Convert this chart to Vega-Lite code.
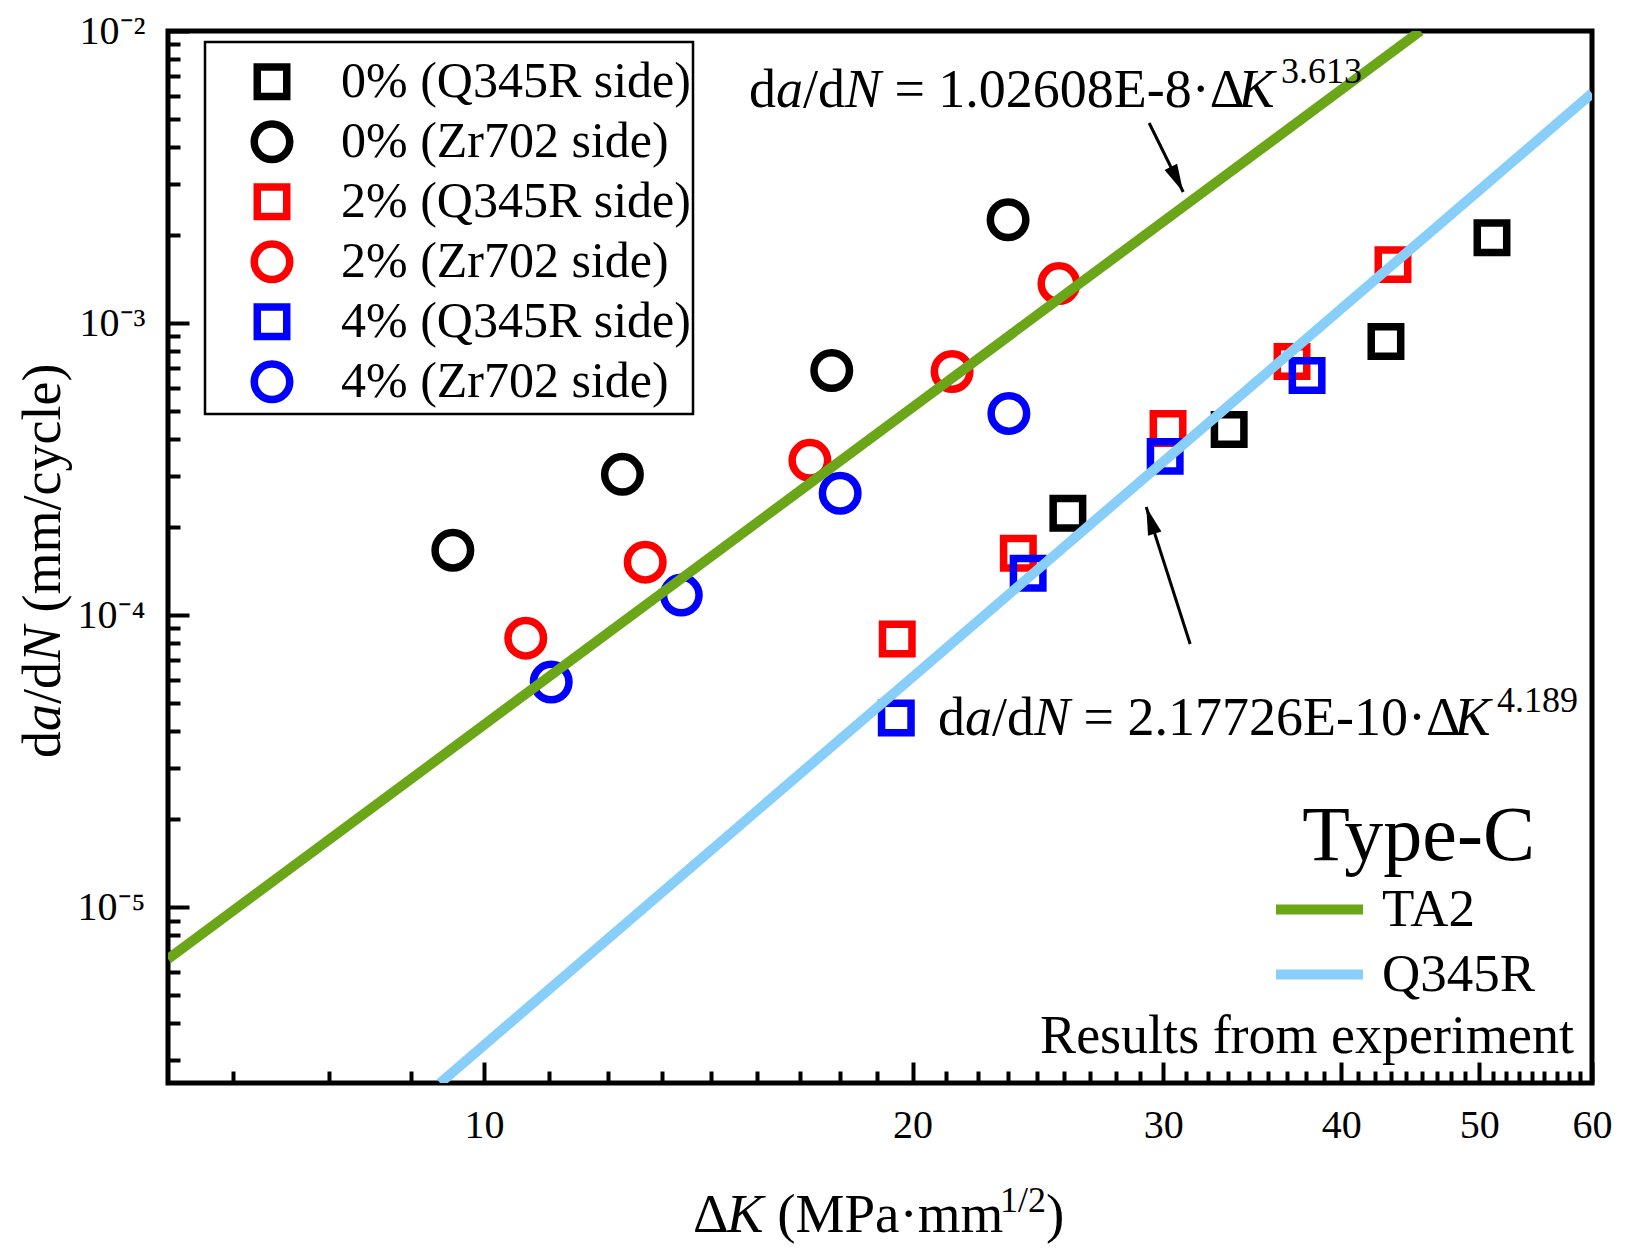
{
  "$schema": "https://vega.github.io/schema/vega-lite/v6.json",
  "width": 1424,
  "height": 1052,
  "autosize": {"type": "none"},
  "padding": {"left": 168, "top": 31, "right": 33, "bottom": 170},
  "background": "white",
  "config": {
    "view": {"stroke": "black", "strokeWidth": 5},
    "axis": {
      "domain": false, "grid": false, "title": null,
      "tickColor": "black", "tickWidth": 4,
      "labelFont": "Liberation Serif", "labelFontSize": 40, "labelColor": "black",
      "labelFlush": false, "labelOverlap": false
    },
    "legend": {"strokeWidth": 2.5},
    "text": {"font": "Liberation Serif", "color": "black"}
  },
  "datasets": {
    "pts": [
      {"series": "0% (Q345R side)", "k": 25.71, "rate": 0.0002232},
      {"series": "0% (Q345R side)", "k": 33.37, "rate": 0.0004324},
      {"series": "0% (Q345R side)", "k": 43.0, "rate": 0.0008645},
      {"series": "0% (Q345R side)", "k": 51.04, "rate": 0.00196},
      {"series": "0% (Zr702 side)", "k": 9.51, "rate": 0.0001668},
      {"series": "0% (Zr702 side)", "k": 12.51, "rate": 0.0003034},
      {"series": "0% (Zr702 side)", "k": 17.55, "rate": 0.000688},
      {"series": "0% (Zr702 side)", "k": 23.34, "rate": 0.002258},
      {"series": "2% (Q345R side)", "k": 19.51, "rate": 0.0000828},
      {"series": "2% (Q345R side)", "k": 23.73, "rate": 0.0001629},
      {"series": "2% (Q345R side)", "k": 30.23, "rate": 0.0004358},
      {"series": "2% (Q345R side)", "k": 36.94, "rate": 0.0007386},
      {"series": "2% (Q345R side)", "k": 43.49, "rate": 0.001585},
      {"series": "2% (Zr702 side)", "k": 10.7, "rate": 0.0000834},
      {"series": "2% (Zr702 side)", "k": 12.98, "rate": 0.0001518},
      {"series": "2% (Zr702 side)", "k": 16.94, "rate": 0.0003388},
      {"series": "2% (Zr702 side)", "k": 21.32, "rate": 0.0006827},
      {"series": "2% (Zr702 side)", "k": 25.34, "rate": 0.001365},
      {"series": "4% (Q345R side)", "k": 19.48, "rate": 0.00004444},
      {"series": "4% (Q345R side)", "k": 24.11, "rate": 0.0001392},
      {"series": "4% (Q345R side)", "k": 30.09, "rate": 0.0003496},
      {"series": "4% (Q345R side)", "k": 37.85, "rate": 0.0006614},
      {"series": "4% (Zr702 side)", "k": 11.15, "rate": 0.000059},
      {"series": "4% (Zr702 side)", "k": 13.76, "rate": 0.0001171},
      {"series": "4% (Zr702 side)", "k": 17.79, "rate": 0.0002613},
      {"series": "4% (Zr702 side)", "k": 23.37, "rate": 0.0004904}
    ],
    "fits": [
      {"fit": "TA2", "k": 6, "rate": 0.000006645},
      {"fit": "TA2", "k": 45.46, "rate": 0.01},
      {"fit": "Q345R", "k": 9.316, "rate": 0.0000025},
      {"fit": "Q345R", "k": 60, "rate": 0.006116}
    ],
    "arrows": [
      {"arrow": "TA2", "k": 30.98, "rate": 0.00281, "k2": 29.32, "rate2": 0.004842},
      {"arrow": "Q345R", "k": 29.18, "rate": 0.0002346, "k2": 31.33, "rate2": 0.00007963}
    ],
    "notes": [
      {"part": "eq", "text": "d", "k": 15.352, "rate": 0.005493},
      {"part": "eq-i", "text": "a", "k": 16.037, "rate": 0.005493},
      {"part": "eq", "text": "/d", "k": 16.752, "rate": 0.005493},
      {"part": "eq-i", "text": "N", "k": 17.932, "rate": 0.005493},
      {"part": "eq", "text": "= 1.02608E-8·Δ", "k": 19.42, "rate": 0.005493},
      {"part": "eq-i", "text": "K", "k": 33.88, "rate": 0.005493},
      {"part": "eq-sup", "text": "3.613", "k": 36.29, "rate": 0.006637},
      {"part": "eq", "text": "d", "k": 20.84, "rate": 0.00003886},
      {"part": "eq-i", "text": "a", "k": 21.77, "rate": 0.00003886},
      {"part": "eq", "text": "/d", "k": 22.74, "rate": 0.00003886},
      {"part": "eq-i", "text": "N", "k": 24.34, "rate": 0.00003886},
      {"part": "eq", "text": "= 2.17726E-10·Δ", "k": 26.37, "rate": 0.00003886},
      {"part": "eq-i", "text": "K", "k": 48.04, "rate": 0.00003886},
      {"part": "eq-sup", "text": "4.189", "k": 51.45, "rate": 0.00004659},
      {"part": "note", "text": "Results from experiment", "k": 58.28, "rate": 0.00000317},
      {"part": "xt", "text": "Δ", "k": 14.023, "rate": 0.0000007722},
      {"part": "xt-i", "text": "K", "k": 14.808, "rate": 0.0000007722},
      {"part": "xt", "text": "(MPa·mm", "k": 16.068, "rate": 0.0000007722},
      {"part": "xt-sup", "text": "1/2", "k": 23.037, "rate": 0.000000904},
      {"part": "xt", "text": ")", "k": 24.815, "rate": 0.0000007722},
      {"part": "yt", "text": "d", "k": 5.039, "rate": 0.00003241},
      {"part": "yt-i", "text": "a", "k": 5.039, "rate": 0.00004011},
      {"part": "yt", "text": "/d", "k": 5.039, "rate": 0.00004962},
      {"part": "yt-i", "text": "N", "k": 5.039, "rate": 0.0000691},
      {"part": "yt", "text": "(mm/cycle)", "k": 5.039, "rate": 0.00010209}
    ]
  },
  "encoding": {
    "x": {"field": "k", "type": "quantitative", "scale": {"type": "log", "domain": [6, 60], "nice": false}, "axis": null},
    "y": {"field": "rate", "type": "quantitative", "scale": {"type": "log", "domain": [0.0000025, 0.01], "nice": false}, "axis": null}
  },
  "layer": [
    {
      "data": {"name": "pts"},
      "mark": {"type": "point", "filled": false, "strokeWidth": 7.5, "size": 1260, "opacity": 1},
      "encoding": {
        "x": {
          "field": "k", "type": "quantitative",
          "scale": {"type": "log", "domain": [6, 60], "nice": false},
          "axis": {"orient": "bottom", "values": [10, 20, 30, 40, 50, 60], "format": "d", "tickSize": -21, "labelPadding": 43, "labelBaseline": "top"}
        },
        "y": {
          "field": "rate", "type": "quantitative",
          "scale": {"type": "log", "domain": [0.0000025, 0.01], "nice": false},
          "axis": {
            "orient": "left", "values": [0.00001, 0.0001, 0.001, 0.01], "tickSize": -21, "labelPadding": 44,
            "labelExpr": "datum.value == 0.01 ? '10⁻²' : datum.value == 0.001 ? '10⁻³' : datum.value == 0.0001 ? '10⁻⁴' : '10⁻⁵'"
          }
        },
        "color": {
          "field": "series", "type": "nominal",
          "scale": {
            "domain": ["0% (Q345R side)", "0% (Zr702 side)", "2% (Q345R side)", "2% (Zr702 side)", "4% (Q345R side)", "4% (Zr702 side)"],
            "range": ["#000000", "#000000", "#ff0000", "#ff0000", "#0000ff", "#0000ff"]
          },
          "legend": {
            "title": " ", "titleFontSize": 4, "titlePadding": 4,
            "orient": "none", "legendX": 37, "legendY": 11, "direction": "vertical",
            "padding": 2, "strokeColor": "black", "fillColor": "white",
            "labelFont": "Liberation Serif", "labelFontSize": 50, "labelLimit": 0, "labelColor": "black",
            "labelOffset": 44, "symbolOffset": 40, "rowPadding": 0, "clipHeight": 59.6,
            "symbolSize": 1260, "symbolStrokeWidth": 7.5
          }
        },
        "shape": {
          "field": "series", "type": "nominal",
          "scale": {
            "domain": ["0% (Q345R side)", "0% (Zr702 side)", "2% (Q345R side)", "2% (Zr702 side)", "4% (Q345R side)", "4% (Zr702 side)"],
            "range": ["M-0.83,-0.83H0.83V0.83H-0.83Z", "circle", "M-0.83,-0.83H0.83V0.83H-0.83Z", "circle", "M-0.83,-0.83H0.83V0.83H-0.83Z", "circle"]
          },
          "legend": {
            "title": " ", "titleFontSize": 4, "titlePadding": 4,
            "orient": "none", "legendX": 37, "legendY": 11, "direction": "vertical",
            "padding": 2, "strokeColor": "black", "fillColor": "white",
            "labelFont": "Liberation Serif", "labelFontSize": 50, "labelLimit": 0, "labelColor": "black",
            "labelOffset": 44, "symbolOffset": 40, "rowPadding": 0, "clipHeight": 59.6,
            "symbolSize": 1260, "symbolStrokeWidth": 7.5
          }
        }
      }
    },
    {
      "data": {"name": "fits"},
      "mark": {"type": "line", "strokeWidth": 10, "clip": true},
      "encoding": {
        "x": {
          "field": "k", "type": "quantitative",
          "scale": {"type": "log", "domain": [6, 60], "nice": false},
          "axis": {
            "orient": "bottom", "labels": false, "tickSize": -12,
            "values": [6.667, 7.778, 8.889, 11.111, 12.222, 13.333, 14.444, 15.556, 16.667, 17.778, 18.889, 21.111, 22.222, 23.333, 24.444, 25.556, 26.667, 27.778, 28.889, 31.111, 32.222, 33.333, 34.444, 35.556, 36.667, 37.778, 38.889, 41.111, 42.222, 43.333, 44.444, 45.556, 46.667, 47.778, 48.889, 51.111, 52.222, 53.333, 54.444, 55.556, 56.667, 57.778, 58.889]
          }
        },
        "y": {
          "field": "rate", "type": "quantitative",
          "scale": {"type": "log", "domain": [0.0000025, 0.01], "nice": false},
          "axis": {
            "orient": "left", "labels": false, "tickSize": -12,
            "values": [0.000003, 0.000004, 0.000005, 0.000006, 0.000007, 0.000008, 0.000009, 0.00002, 0.00003, 0.00004, 0.00005, 0.00006, 0.00007, 0.00008, 0.00009, 0.0002, 0.0003, 0.0004, 0.0005, 0.0006, 0.0007, 0.0008, 0.0009, 0.002, 0.003, 0.004, 0.005, 0.006, 0.007, 0.008, 0.009]
          }
        },
        "stroke": {
          "field": "fit", "type": "nominal",
          "scale": {"domain": ["TA2", "Q345R"], "range": ["#6ba618", "#87cefa"]},
          "legend": {
            "title": "Type-C", "orient": "none", "legendX": 1103, "legendY": 767, "padding": 0,
            "titleFont": "Liberation Serif", "titleFontSize": 78, "titleFontWeight": "normal", "titleColor": "black",
            "titleAnchor": "end", "titlePadding": 1, "titleLimit": 0,
            "labelFont": "Liberation Serif", "labelFontSize": 53, "labelColor": "black", "labelOffset": 14, "labelLimit": 0,
            "symbolType": "stroke", "symbolSize": 7569, "symbolStrokeWidth": 10, "rowPadding": 0, "clipHeight": 65
          }
        }
      }
    },
    {
      "data": {"name": "arrows"},
      "mark": {"type": "rule", "strokeWidth": 3, "color": "black"},
      "encoding": {
        "x2": {"field": "k2"},
        "y2": {"field": "rate2"}
      }
    },
    {
      "data": {"name": "arrows"},
      "transform": [{"filter": "datum.arrow == 'TA2'"}],
      "mark": {"type": "point", "shape": "M0,0L-0.25,1L0.25,1Z", "size": 3136, "filled": true, "color": "black", "opacity": 1, "strokeWidth": 0, "angle": 153.8}
    },
    {
      "data": {"name": "arrows"},
      "transform": [{"filter": "datum.arrow == 'Q345R'"}],
      "mark": {"type": "point", "shape": "M0,0L-0.25,1L0.25,1Z", "size": 3136, "filled": true, "color": "black", "opacity": 1, "strokeWidth": 0, "angle": 342.2}
    },
    {
      "data": {"name": "notes"},
      "transform": [{"filter": "datum.part == 'eq'"}],
      "mark": {"type": "text", "fontSize": 54, "align": "left", "baseline": "alphabetic"},
      "encoding": {"text": {"field": "text"}}
    },
    {
      "data": {"name": "notes"},
      "transform": [{"filter": "datum.part == 'eq-i'"}],
      "mark": {"type": "text", "fontSize": 54, "fontStyle": "italic", "align": "left", "baseline": "alphabetic"},
      "encoding": {"text": {"field": "text"}}
    },
    {
      "data": {"name": "notes"},
      "transform": [{"filter": "datum.part == 'eq-sup' || datum.part == 'xt-sup'"}],
      "mark": {"type": "text", "fontSize": 36, "align": "left", "baseline": "alphabetic"},
      "encoding": {"text": {"field": "text"}}
    },
    {
      "data": {"name": "notes"},
      "transform": [{"filter": "datum.part == 'note'"}],
      "mark": {"type": "text", "fontSize": 54, "align": "right", "baseline": "alphabetic"},
      "encoding": {"text": {"field": "text"}}
    },
    {
      "data": {"name": "notes"},
      "transform": [{"filter": "datum.part == 'xt'"}],
      "mark": {"type": "text", "fontSize": 55, "align": "left", "baseline": "alphabetic"},
      "encoding": {"text": {"field": "text"}}
    },
    {
      "data": {"name": "notes"},
      "transform": [{"filter": "datum.part == 'xt-i'"}],
      "mark": {"type": "text", "fontSize": 55, "fontStyle": "italic", "align": "left", "baseline": "alphabetic"},
      "encoding": {"text": {"field": "text"}}
    },
    {
      "data": {"name": "notes"},
      "transform": [{"filter": "datum.part == 'yt'"}],
      "mark": {"type": "text", "fontSize": 54, "angle": 270, "align": "left", "baseline": "alphabetic"},
      "encoding": {"text": {"field": "text"}}
    },
    {
      "data": {"name": "notes"},
      "transform": [{"filter": "datum.part == 'yt-i'"}],
      "mark": {"type": "text", "fontSize": 54, "fontStyle": "italic", "angle": 270, "align": "left", "baseline": "alphabetic"},
      "encoding": {"text": {"field": "text"}}
    }
  ],
  "resolve": {"axis": {"x": "independent", "y": "independent"}}
}
